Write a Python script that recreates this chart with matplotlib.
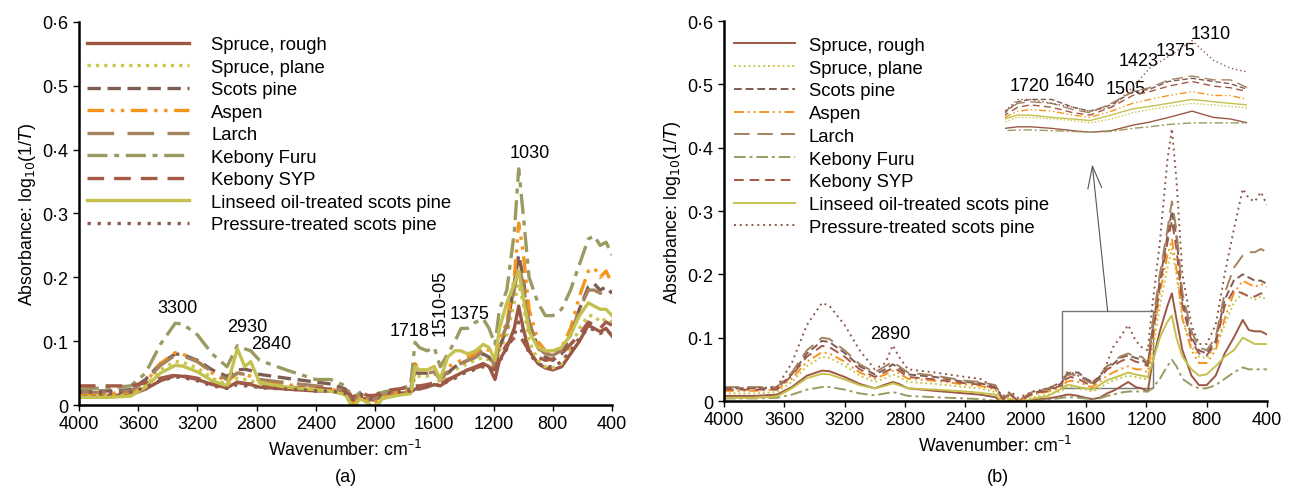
import matplotlib
matplotlib.use("Agg")
import matplotlib.pyplot as plt
from matplotlib.patches import Rectangle

plt.rcParams['font.family'] = ['Liberation Sans', 'DejaVu Sans']

# wavenumber grid (cm-1), shared by both panels
wavenumber = [4000, 3800, 3650, 3550, 3450, 3350, 3300, 3200, 3100, 3000,
              2930, 2880, 2840, 2780, 2600,
              2400, 2300, 2200, 2150, 2100, 2050, 2000, 1950, 1850,
              1760, 1730, 1700, 1650, 1600, 1560, 1510, 1460, 1420, 1375, 1320, 1270, 1230, 1190, 1160,
              1110, 1060, 1030, 1000, 960, 900, 850, 800, 740, 680, 620, 560, 520, 480, 440, 400]

labels = ["Spruce, rough", "Spruce, plane", "Scots pine", "Aspen", "Larch",
          "Kebony Furu", "Kebony SYP", "Linseed oil-treated scots pine",
          "Pressure-treated scots pine"]

# ---- panel (a)
a_spruce_rough = [0.015, 0.015, 0.016, 0.025, 0.038, 0.046, 0.045, 0.04, 0.032, 0.027,
                  0.036, 0.033, 0.032, 0.028, 0.025,
                  0.022, 0.022, 0.018, 0.006, 0.012, 0.008, 0.008, 0.015, 0.018,
                  0.02, 0.025, 0.025, 0.028, 0.032, 0.03, 0.038, 0.045, 0.05, 0.055, 0.06, 0.065, 0.06, 0.04, 0.07,
                  0.09, 0.12, 0.155, 0.12, 0.085, 0.065, 0.058, 0.055, 0.06, 0.08, 0.1, 0.125, 0.12, 0.115, 0.12, 0.108]
a_spruce_plane = [0.015, 0.015, 0.016, 0.03, 0.055, 0.068, 0.067, 0.058, 0.042, 0.032,
                  0.042, 0.04, 0.038, 0.033, 0.028,
                  0.024, 0.022, 0.018, 0.002, 0.012, 0.004, 0.004, 0.012, 0.016,
                  0.018, 0.045, 0.045, 0.045, 0.05, 0.035, 0.05, 0.055, 0.06, 0.065, 0.07, 0.075, 0.07, 0.055, 0.085,
                  0.11, 0.16, 0.19, 0.16, 0.1, 0.07, 0.06, 0.058, 0.065, 0.09, 0.12, 0.14, 0.14, 0.13, 0.135, 0.13]
a_scots_pine = [0.022, 0.022, 0.024, 0.04, 0.065, 0.08, 0.079, 0.07, 0.055, 0.045,
                0.055, 0.056, 0.054, 0.048, 0.042,
                0.036, 0.033, 0.025, 0.01, 0.018, 0.01, 0.012, 0.02, 0.022,
                0.025, 0.05, 0.05, 0.05, 0.055, 0.04, 0.05, 0.06, 0.065, 0.07, 0.075, 0.08, 0.075, 0.06, 0.09,
                0.12, 0.19, 0.235, 0.2, 0.13, 0.09, 0.075, 0.07, 0.08, 0.11, 0.15, 0.185, 0.19, 0.18, 0.185, 0.175]
a_aspen = [0.018, 0.018, 0.02, 0.035, 0.065, 0.082, 0.08, 0.068, 0.05, 0.036,
           0.05, 0.048, 0.045, 0.038, 0.032,
           0.027, 0.025, 0.02, 0.003, 0.015, 0.006, 0.005, 0.015, 0.02,
           0.022, 0.065, 0.055, 0.055, 0.06, 0.04, 0.06, 0.065, 0.07, 0.075, 0.08, 0.09, 0.085, 0.065, 0.1,
           0.13, 0.2, 0.285, 0.24, 0.15, 0.1, 0.085, 0.08, 0.09, 0.12, 0.17, 0.21, 0.215, 0.2, 0.21, 0.19]
a_larch = [0.02, 0.02, 0.022, 0.038, 0.062, 0.078, 0.077, 0.068, 0.052, 0.04,
           0.05, 0.048, 0.046, 0.04, 0.035,
           0.03, 0.028, 0.022, 0.008, 0.016, 0.008, 0.01, 0.018, 0.02,
           0.022, 0.055, 0.05, 0.05, 0.052, 0.04, 0.052, 0.06, 0.065, 0.07, 0.075, 0.085, 0.078, 0.06, 0.095,
           0.125, 0.18, 0.22, 0.19, 0.13, 0.09, 0.08, 0.078, 0.085, 0.11, 0.15, 0.18, 0.18, 0.175, 0.18, 0.17]
a_kebony_furu = [0.025, 0.027, 0.03, 0.05, 0.095, 0.128, 0.127, 0.11, 0.08, 0.06,
                 0.093, 0.088, 0.085, 0.07, 0.055,
                 0.04, 0.04, 0.03, 0.01, 0.02, 0.012, 0.015, 0.02, 0.025,
                 0.03, 0.098, 0.09, 0.085, 0.09, 0.06, 0.08, 0.1, 0.12, 0.12, 0.13, 0.135, 0.12, 0.095, 0.15,
                 0.18, 0.27, 0.37, 0.3, 0.2, 0.16, 0.14, 0.14, 0.15, 0.18, 0.22, 0.26, 0.265, 0.25, 0.255, 0.235]
a_kebony_syp = [0.03, 0.03, 0.03, 0.035, 0.042, 0.047, 0.046, 0.042, 0.035, 0.03,
                0.035, 0.034, 0.033, 0.03, 0.028,
                0.026, 0.025, 0.022, 0.012, 0.02, 0.015, 0.015, 0.022, 0.025,
                0.028, 0.03, 0.03, 0.032, 0.035, 0.033, 0.04, 0.045, 0.05, 0.055, 0.058, 0.062, 0.06, 0.055, 0.075,
                0.095, 0.105, 0.11, 0.1, 0.085, 0.075, 0.07, 0.072, 0.08, 0.095, 0.11, 0.13, 0.125, 0.12, 0.13, 0.125]
a_linseed = [0.012, 0.012, 0.014, 0.028, 0.05, 0.062, 0.061, 0.052, 0.038, 0.03,
             0.088, 0.06, 0.068, 0.035, 0.028,
             0.024, 0.022, 0.016, -0.005, 0.01, 0.003, -0.005, 0.01, 0.015,
             0.018, 0.06, 0.055, 0.055, 0.06, 0.04, 0.075, 0.085, 0.085, 0.08, 0.085, 0.095, 0.09, 0.07, 0.12,
             0.16, 0.19, 0.21, 0.17, 0.115, 0.09, 0.085, 0.085, 0.09, 0.11, 0.14, 0.16, 0.155, 0.15, 0.15, 0.14]
a_pressure = [0.02, 0.02, 0.02, 0.028, 0.038, 0.044, 0.043, 0.038, 0.03, 0.026,
              0.032, 0.03, 0.03, 0.027, 0.025,
              0.022, 0.022, 0.018, 0.008, 0.015, 0.01, 0.01, 0.018, 0.02,
              0.022, 0.028, 0.028, 0.03, 0.033, 0.03, 0.037, 0.042, 0.048, 0.052, 0.056, 0.06, 0.058, 0.05, 0.068,
              0.088, 0.11, 0.13, 0.11, 0.08, 0.065, 0.06, 0.06, 0.068, 0.085, 0.105, 0.12, 0.118, 0.112, 0.118, 0.11]

# ---- panel (b)
b_spruce_rough = [0.008, 0.008, 0.01, 0.022, 0.04, 0.048, 0.047, 0.038, 0.027, 0.02,
                  0.026, 0.03, 0.027, 0.02, 0.016,
                  0.012, 0.01, 0.006, -0.005, 0.002, -0.005, -0.002, 0.002, 0.004,
                  0.008, 0.01, 0.01, 0.008, 0.005, 0.003, 0.005, 0.012, 0.016, 0.022, 0.03, 0.022, 0.02, 0.015, 0.06,
                  0.11, 0.15, 0.17, 0.13, 0.08, 0.04, 0.025, 0.025, 0.04, 0.075, 0.1, 0.128, 0.112, 0.11, 0.11, 0.105]
b_spruce_plane = [0.012, 0.012, 0.014, 0.03, 0.055, 0.07, 0.068, 0.056, 0.04, 0.03,
                  0.036, 0.042, 0.038, 0.03, 0.027,
                  0.022, 0.02, 0.014, 0.0, 0.006, -0.002, 0.002, 0.006, 0.01,
                  0.016, 0.022, 0.022, 0.02, 0.018, 0.015, 0.02, 0.028, 0.032, 0.036, 0.04, 0.038, 0.036, 0.034, 0.075,
                  0.15, 0.21, 0.24, 0.2, 0.13, 0.085, 0.07, 0.068, 0.085, 0.12, 0.155, 0.17, 0.165, 0.16, 0.165, 0.16]
b_scots_pine = [0.02, 0.02, 0.02, 0.042, 0.075, 0.095, 0.093, 0.076, 0.055, 0.042,
                0.05, 0.058, 0.052, 0.042, 0.038,
                0.03, 0.028, 0.022, 0.004, 0.01, 0.0, 0.006, 0.013, 0.018,
                0.028, 0.042, 0.045, 0.045, 0.035, 0.03, 0.038, 0.055, 0.058, 0.068, 0.072, 0.068, 0.065, 0.058, 0.11,
                0.19, 0.26, 0.3, 0.26, 0.16, 0.1, 0.08, 0.075, 0.095, 0.16, 0.19, 0.2, 0.195, 0.19, 0.19, 0.185]
b_aspen = [0.016, 0.016, 0.018, 0.035, 0.062, 0.077, 0.075, 0.062, 0.045, 0.035,
           0.042, 0.048, 0.044, 0.035, 0.032,
           0.026, 0.024, 0.018, 0.002, 0.01, 0.0, 0.005, 0.01, 0.015,
           0.022, 0.03, 0.032, 0.03, 0.025, 0.022, 0.03, 0.04, 0.045, 0.05, 0.055, 0.05, 0.05, 0.045, 0.09,
           0.17, 0.23, 0.255, 0.21, 0.13, 0.08, 0.06, 0.06, 0.08, 0.13, 0.17, 0.19, 0.185, 0.18, 0.185, 0.18]
b_larch = [0.022, 0.022, 0.022, 0.045, 0.08, 0.1, 0.098, 0.08, 0.058, 0.045,
           0.055, 0.062, 0.055, 0.045, 0.04,
           0.032, 0.03, 0.025, 0.005, 0.012, 0.0, 0.008, 0.015, 0.02,
           0.03, 0.04, 0.042, 0.04, 0.032, 0.028, 0.04, 0.055, 0.06, 0.07, 0.075, 0.07, 0.07, 0.06, 0.12,
           0.2, 0.27, 0.315, 0.27, 0.17, 0.11, 0.085, 0.08, 0.1, 0.17, 0.21, 0.23, 0.235, 0.235, 0.24, 0.235]
b_kebony_furu = [0.004, 0.004, 0.005, 0.01, 0.018, 0.022, 0.022, 0.018, 0.012, 0.009,
                 0.012, 0.014, 0.012, 0.008, 0.006,
                 0.004, 0.003, 0.0, -0.005, -0.002, -0.005, -0.003, 0.0, 0.002,
                 0.005, 0.006, 0.006, 0.005, 0.004, 0.003, 0.004, 0.008, 0.01, 0.013, 0.015, 0.015, 0.015, 0.015, 0.02,
                 0.035, 0.055, 0.065, 0.055, 0.035, 0.025, 0.02, 0.02, 0.025, 0.035, 0.045, 0.053, 0.05, 0.05, 0.05, 0.05]
b_kebony_syp = [0.018, 0.018, 0.018, 0.04, 0.07, 0.087, 0.085, 0.07, 0.05, 0.038,
                0.046, 0.052, 0.048, 0.038, 0.034,
                0.028, 0.026, 0.02, 0.003, 0.01, 0.0, 0.005, 0.012, 0.016,
                0.025, 0.035, 0.038, 0.035, 0.028, 0.025, 0.035, 0.05, 0.055, 0.062, 0.068, 0.062, 0.06, 0.055, 0.1,
                0.18, 0.25, 0.285, 0.24, 0.15, 0.095, 0.075, 0.072, 0.09, 0.15, 0.175, 0.17, 0.165, 0.165, 0.17, 0.165]
b_linseed = [0.005, 0.005, 0.007, 0.02, 0.036, 0.043, 0.042, 0.034, 0.025, 0.02,
             0.024, 0.028, 0.025, 0.02, 0.018,
             0.015, 0.013, 0.01, -0.003, 0.004, -0.003, 0.0, 0.004, 0.008,
             0.02, 0.025, 0.025, 0.022, 0.02, 0.018, 0.025, 0.033, 0.036, 0.04, 0.045, 0.042, 0.04, 0.038, 0.06,
             0.1, 0.125, 0.135, 0.1, 0.07, 0.05, 0.04, 0.042, 0.055, 0.07, 0.08, 0.1, 0.095, 0.09, 0.09, 0.09]
b_pressure = [0.02, 0.02, 0.022, 0.06, 0.12, 0.155, 0.15, 0.12, 0.08, 0.05,
              0.06, 0.088, 0.07, 0.05, 0.045,
              0.038, 0.035, 0.02, 0.008, 0.015, 0.005, 0.01, 0.015, 0.02,
              0.03, 0.045, 0.045, 0.04, 0.035, 0.03, 0.035, 0.06, 0.085, 0.1, 0.12, 0.095, 0.085, 0.08, 0.15,
              0.25, 0.38, 0.43, 0.35, 0.2, 0.12, 0.09, 0.09, 0.12, 0.2, 0.27, 0.335, 0.32, 0.315, 0.33, 0.31]

a_series = [a_spruce_rough, a_spruce_plane, a_scots_pine, a_aspen, a_larch,
            a_kebony_furu, a_kebony_syp, a_linseed, a_pressure]
b_series = [b_spruce_rough, b_spruce_plane, b_scots_pine, b_aspen, b_larch,
            b_kebony_furu, b_kebony_syp, b_linseed, b_pressure]

colors = ['#9c5845', '#c9c74e', '#7d5c52', '#f7941d', '#a5825f',
          '#9b9a63', '#a45a46', '#c5c14f', '#8e5a4c']
styles = ['-', (0, (1, 1.5)), (0, (4, 2)), (0, (5, 2, 1, 2, 1, 2)), (0, (8, 4)),
          (0, (6, 2, 1.5, 2)), (0, (5, 3)), '-', (0, (1, 2))]

a_peaks = [("3300", 3332, 0.152), ("2930", 2865, 0.123), ("2840", 2702, 0.096),
           ("1718", 1765, 0.117), ("1375", 1361, 0.143), ("1030", 954, 0.396)]
b_peaks = [("2890", 2897, 0.107), ("1720", 1971, 0.498), ("1640", 1673, 0.506),
           ("1505", 1335, 0.494), ("1423", 1249, 0.537), ("1375", 1003, 0.554),
           ("1310", 771, 0.581)]

fig = plt.figure(figsize=(12.9, 4.89), dpi=100)
ax_a = fig.add_axes([0.0612, 0.1697, 0.4132, 0.7833])
ax_b = fig.add_axes([0.5612, 0.1779, 0.4209, 0.7771])


def style_axes(ax):
    ax.set_xlim(4000, 400)
    ax.set_ylim(0, 0.6)
    ax.set_xticks(range(4000, 399, -400))
    ax.set_yticks([0, 0.1, 0.2, 0.3, 0.4, 0.5, 0.6])
    ax.set_yticklabels(['0', '0·1', '0·2', '0·3', '0·4', '0·5', '0·6'])
    for s in ['top', 'right']:
        ax.spines[s].set_visible(False)
    for s in ['left', 'bottom']:
        ax.spines[s].set_linewidth(1.8)
    ax.tick_params(labelsize=13, length=4, width=1)
    ax.set_xlabel("Wavenumber: cm$^{\u2013 1}$", fontsize=12.8, labelpad=5)
    ax.set_ylabel("Absorbance: log$_{10}$(1/$T$)", fontsize=12.8, labelpad=3)


for i in range(9):
    ax_a.plot(wavenumber, a_series[i], color=colors[i], ls=styles[i], lw=2.4,
              label=labels[i])
    ax_b.plot(wavenumber, b_series[i], color=colors[i], ls=styles[i], lw=1.4,
              label=labels[i])

style_axes(ax_a)
style_axes(ax_b)

ax_a.legend(loc='upper left', bbox_to_anchor=(0.016, 0.963), frameon=False,
            fontsize=13.3, handlelength=5.5, handletextpad=1.2, labelspacing=0.3,
            borderpad=0, borderaxespad=0)
ax_b.legend(loc='upper left', bbox_to_anchor=(0.018, 0.958), frameon=False,
            fontsize=13.3, handlelength=3.3, handletextpad=0.75, labelspacing=0.31,
            borderpad=0, borderaxespad=0)

for txt, x, y in a_peaks:
    ax_a.text(x, y, txt, fontsize=13, ha='center', va='center')
ax_a.text(1559, 0.161, "1510-05", fontsize=13, ha='center', va='center', rotation=90)
for txt, x, y in b_peaks:
    ax_b.text(x, y, txt, fontsize=13, ha='center', va='center')

# zoom box and arrow in panel (b)
ax_b.add_patch(Rectangle((1156, 0.0205), 603, 0.1215, fill=False,
                         edgecolor='#777777', lw=1))
ax_b.annotate("", xy=(1560, 0.378), xytext=(1454, 0.137),
              arrowprops=dict(arrowstyle='->,head_length=1.6,head_width=0.5',
                              color='#555555', lw=0.8))

# magnified view of the boxed region
ax_in = fig.add_axes([0.779, 0.7035, 0.188, 0.235])
for i in range(9):
    ax_in.plot(wavenumber, b_series[i], color=colors[i], ls=styles[i], lw=1.0)
ax_in.set_xlim(1760, 1190)
ax_in.set_ylim(-0.012, 0.135)
ax_in.axis('off')

fig.text(0.2678, 0.0225, "(a)", fontsize=13, ha='center', va='center')
fig.text(0.7733, 0.0225, "(b)", fontsize=13, ha='center', va='center')

fig.savefig("out.png", dpi=100)
